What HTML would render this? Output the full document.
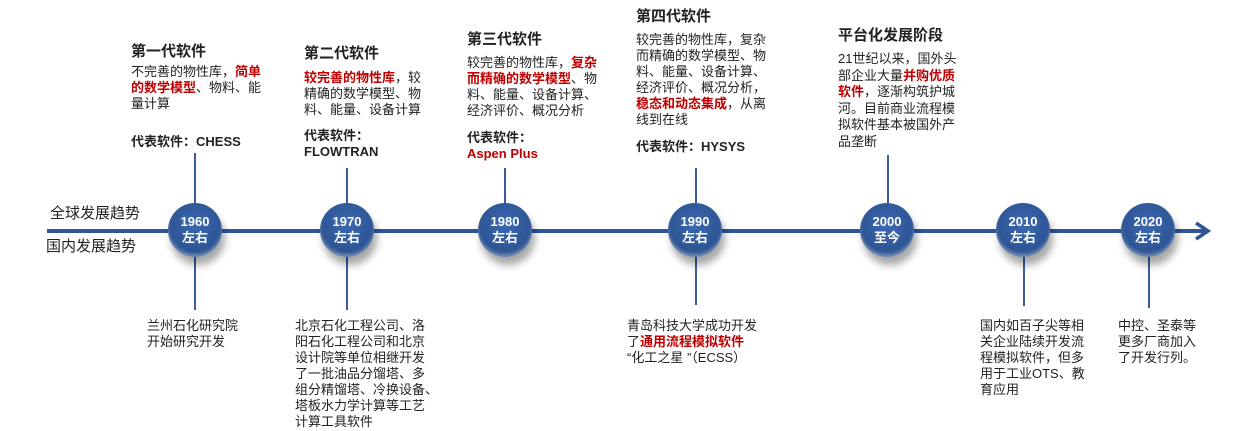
<!DOCTYPE html>
<html><head><meta charset="utf-8"><style>
body{margin:0;width:1239px;height:431px;background:#fff;position:relative;overflow:hidden;font-family:"Liberation Sans","Noto Sans CJK SC",sans-serif;color:#222}
.t{position:absolute;font-size:13px;line-height:16px;white-space:nowrap}
.h{font-size:15px;font-weight:bold;line-height:20px;display:block;margin-bottom:2px}
.r{color:#c00000;font-weight:bold}
.b{font-weight:bold}
.c{position:absolute;width:54px;height:54px;border-radius:50%;background:radial-gradient(circle at 50% 40%,#3d68b0 0%,#2e5696 60%,#1f3f75 100%);box-shadow:3px 8px 8px rgba(0,0,0,.35), inset 0 -3px 3px rgba(255,255,255,.35);color:#fff;font-weight:bold;font-size:13px;line-height:16px;text-align:center;box-sizing:border-box;padding-top:11px}
.v{position:absolute;width:2px;background:#3b5c9c}
.lab{position:absolute;font-size:15px;line-height:20px}
</style></head><body>
<div style="position:absolute;left:47px;top:229px;width:1160px;height:4px;background:#2f5597"></div>
<svg style="position:absolute;left:1192px;top:221px" width="22" height="20"><polyline points="4,2 16,10 4,18" fill="none" stroke="#2f5597" stroke-width="3.5"/></svg>
<div class="lab" style="left:50px;top:204px">全球发展趋势</div>
<div class="lab" style="left:46px;top:237px">国内发展趋势</div>

<div class="v" style="left:194px;top:153px;height:50px"></div>
<div class="v" style="left:194px;top:255px;height:55px"></div>
<div class="v" style="left:346px;top:168px;height:35px"></div>
<div class="v" style="left:346px;top:255px;height:55px"></div>
<div class="v" style="left:504px;top:168px;height:35px"></div>
<div class="v" style="left:695px;top:168px;height:35px"></div>
<div class="v" style="left:695px;top:255px;height:50px"></div>
<div class="v" style="left:887px;top:155px;height:48px"></div>
<div class="v" style="left:1023px;top:255px;height:51px"></div>
<div class="v" style="left:1148px;top:255px;height:53px"></div>

<div class="c" style="left:168px;top:203px">1960<br>左右</div>
<div class="c" style="left:320px;top:203px">1970<br>左右</div>
<div class="c" style="left:478px;top:203px">1980<br>左右</div>
<div class="c" style="left:668px;top:203px">1990<br>左右</div>
<div class="c" style="left:860px;top:203px">2000<br>至今</div>
<div class="c" style="left:996px;top:203px">2010<br>左右</div>
<div class="c" style="left:1121px;top:203px">2020<br>左右</div>

<div class="t" style="left:131px;top:42px"><span class="h">第一代软件</span>不完善的物性库，<span class="r">简单</span><br><span class="r">的数学模型</span>、物料、能<br>量计算</div>
<div class="t b" style="left:131px;top:134px">代表软件：CHESS</div>

<div class="t" style="left:304px;top:44px"><span class="h" style="margin-bottom:6px">第二代软件</span><span class="r">较完善的物性库</span>，较<br>精确的数学模型、物<br>料、能量、设备计算</div>
<div class="t b" style="left:304px;top:128px">代表软件：<br>FLOWTRAN</div>

<div class="t" style="left:467px;top:30px"><span class="h" style="margin-bottom:5px">第三代软件</span>较完善的物性库，<span class="r">复杂</span><br><span class="r">而精确的数学模型</span>、物<br>料、能量、设备计算、<br>经济评价、概况分析</div>
<div class="t b" style="left:467px;top:130px">代表软件：<br><span class="r">Aspen Plus</span></div>

<div class="t" style="left:636px;top:7px"><span class="h" style="margin-bottom:5px">第四代软件</span>较完善的物性库，复杂<br>而精确的数学模型、物<br>料、能量、设备计算、<br>经济评价、概况分析，<br><span class="r">稳态和动态集成</span>，从离<br>线到在线</div>
<div class="t b" style="left:636px;top:139px">代表软件：HYSYS</div>

<div class="t" style="left:838px;top:26px;line-height:16.5px"><span class="h" style="margin-bottom:5px">平台化发展阶段</span>21世纪以来，国外头<br>部企业大量<span class="r">并购优质</span><br><span class="r">软件</span>，逐渐构筑护城<br>河。目前商业流程模<br>拟软件基本被国外产<br>品垄断</div>

<div class="t" style="left:147px;top:318px">兰州石化研究院<br>开始研究开发</div>
<div class="t" style="left:295px;top:318px">北京石化工程公司、洛<br>阳石化工程公司和北京<br>设计院等单位相继开发<br>了一批油品分馏塔、多<br>组分精馏塔、冷换设备、<br>塔板水力学计算等工艺<br>计算工具软件</div>
<div class="t" style="left:627px;top:318px">青岛科技大学成功开发<br>了<span class="r">通用流程模拟软件</span><br>“化工之星 ”（ECSS）</div>
<div class="t" style="left:980px;top:318px">国内如百子尖等相<br>关企业陆续开发流<br>程模拟软件，但多<br>用于工业OTS、教<br>育应用</div>
<div class="t" style="left:1118px;top:318px">中控、圣泰等<br>更多厂商加入<br>了开发行列。</div>
</body></html>
